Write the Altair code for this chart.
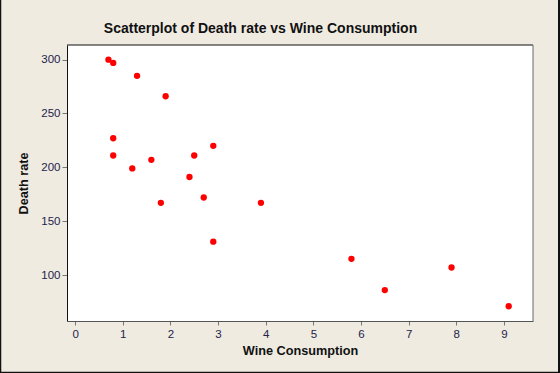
import altair as alt
import pandas as pd

wine = [2.5, 3.9, 2.9, 2.4, 2.9, 0.8, 9.1, 0.8, 0.7, 7.9, 1.8, 1.9, 0.8, 6.5, 1.6, 5.8, 1.3, 1.2, 2.7]
death = [211, 167, 131, 191, 220, 297, 71, 211, 300, 107, 167, 266, 227, 86, 207, 115, 285, 199, 172]
title_text = ["Scatterplot of Death rate vs Wine Consumption"]

df = pd.DataFrame({"Wine Consumption": wine, "Death rate": death})
tdf = pd.DataFrame({"t": title_text})

FONT = "Liberation Sans"
LABEL = "#23234a"

points = alt.Chart(df).mark_circle(size=40, color="#ff0000", opacity=1).encode(
    x=alt.X("Wine Consumption:Q",
            scale=alt.Scale(domain=[-0.17, 9.61], nice=False, zero=False),
            axis=alt.Axis(values=list(range(10)), grid=False, tickSize=4, tickColor="#777777",
                          domainColor="#555555", labelFont=FONT, labelFontSize=11.5, labelColor=LABEL,
                          labelPadding=3, titleFont=FONT, titleFontSize=12.7, titleFontWeight="bold",
                          titleColor="#111111", titlePadding=5)),
    y=alt.Y("Death rate:Q",
            scale=alt.Scale(domain=[57.3, 313.6], nice=False, zero=False),
            axis=alt.Axis(values=[100, 150, 200, 250, 300], grid=False, tickSize=5, tickColor="#777777",
                          domainColor="#111111", labelFont=FONT, labelFontSize=11.5, labelColor=LABEL,
                          labelPadding=2, titleFont=FONT, titleFontSize=12.7, titleFontWeight="bold",
                          titleColor="#111111", titlePadding=10)),
)

title = alt.Chart(tdf).mark_text(font=FONT, fontSize=14, fontWeight="bold", color="#111111",
                                 align="center", baseline="middle", clip=False).encode(
    text="t:N", x=alt.value(193.5), y=alt.value(-16))

frame_left = alt.Chart(tdf).mark_rule(color="#111111", strokeWidth=1.5, clip=False).encode(
    x=alt.value(-66.5), y=alt.value(-45), y2=alt.value(328))
frame_right = alt.Chart(tdf).mark_rule(color="#111111", strokeWidth=2, clip=False).encode(
    x=alt.value(492), y=alt.value(-45), y2=alt.value(328))
frame_bottom = alt.Chart(tdf).mark_rule(color="#111111", strokeWidth=1.5, clip=False).encode(
    x=alt.value(-67), x2=alt.value(493), y=alt.value(327.5))
plot_top = alt.Chart(tdf).mark_rule(color="#111111", strokeWidth=1, clip=False).encode(
    x=alt.value(0), x2=alt.value(466), y=alt.value(0))
plot_right = alt.Chart(tdf).mark_rule(color="#666666", strokeWidth=1, clip=False).encode(
    x=alt.value(466), y=alt.value(0), y2=alt.value(276))

chart = alt.layer(points, plot_top, plot_right, frame_left, frame_right, frame_bottom, title).properties(
    width=466, height=276,
    autosize=alt.AutoSizeParams(type="none"),
    padding={"left": 67, "top": 45, "right": 27, "bottom": 52},
    background="#efebe1",
).configure_view(stroke=None, fill="white")

chart.save("out.html", embed_options={"renderer": "svg", "actions": False})
